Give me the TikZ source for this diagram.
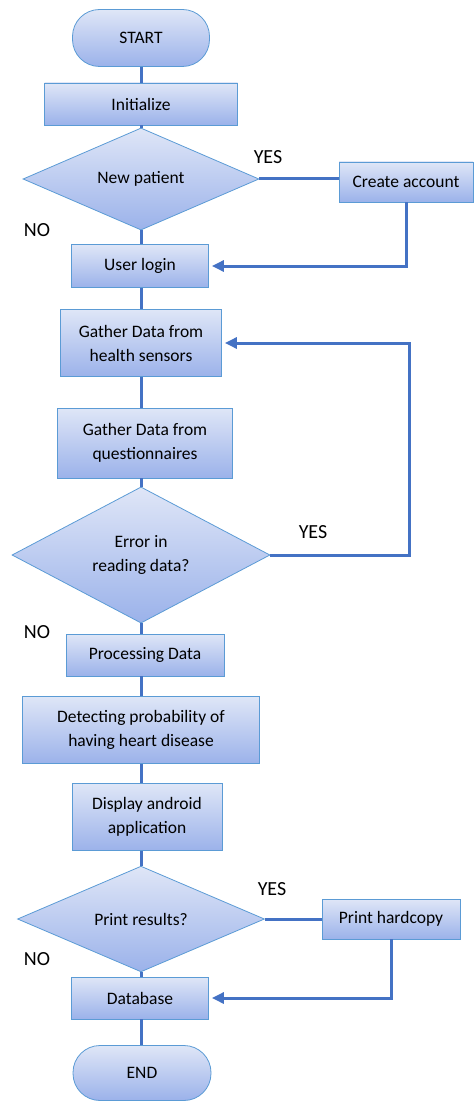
\documentclass[tikz,border=0pt]{standalone}
\usepackage{fontspec}
\setmainfont{Carlito}
\usepackage{xcolor}
\usetikzlibrary{shapes.geometric,arrows.meta}
\definecolor{boxline}{HTML}{5B9BD5}
\definecolor{boxtop}{HTML}{DFE6F7}
\definecolor{boxbottom}{HTML}{9BB2EA}
\definecolor{flowline}{HTML}{4472C4}
\tikzset{
rectnodev1/.style={rectangle, draw=boxline, top color=boxtop, bottom color=boxbottom, thick, inner sep=0pt, align=center, font=\fontsize{17.5}{24}\selectfont},
roundnodev1/.style={rectangle, rounded corners=27pt, draw=boxline, top color=boxtop, bottom color=boxbottom, thick, inner sep=0pt, font=\fontsize{17.5}{24}\selectfont},
diamondnodev1/.style={diamond, draw=boxline, top color=boxtop, bottom color=boxbottom, thick, inner sep=0pt, align=center, font=\fontsize{17.5}{24}\selectfont},
flowlinev1/.style={line width=3pt, draw=flowline},
flowarrowv1/.style={line width=3pt, draw=flowline, -{Triangle[length=12pt,width=11pt]}, shorten >=3pt},
answertext/.style={inner sep=0pt, font=\fontsize{20}{22}\selectfont},
}

\begin{document}
\begin{tikzpicture}[x=1pt,y=-1pt]
    \useasboundingbox (0,0) rectangle (474,1102);
    \node[roundnodev1, minimum width=137pt, minimum height=57pt] at (141,38) (start) {START};
    \node[rectnodev1, minimum width=193pt, minimum height=42pt] at (141,104) (init) {Initialize};
    \node[diamondnodev1, minimum width=236pt, minimum height=82pt] at (141,179) (newpat) {New patient};
    \node[rectnodev1, minimum width=134pt, minimum height=40pt] at (406,182) (account) {Create account};
    \node[rectnodev1, minimum width=137pt, minimum height=43pt] at (140,266) (login) {User login};
    \node[rectnodev1, minimum width=161pt, minimum height=67pt] at (141,343) (sensors) {Gather Data from\\health sensors};
    \node[rectnodev1, minimum width=175pt, minimum height=70pt] at (145,443) (quest) {Gather Data from\\questionnaires};
    \node[diamondnodev1, minimum width=258pt, minimum height=124pt] at (141,555) (error) {Error in\\reading data?};
    \node[rectnodev1, minimum width=158pt, minimum height=42pt] at (145,655) (process) {Processing Data};
    \node[rectnodev1, minimum width=237pt, minimum height=67pt] at (141,730) (detect) {Detecting probability of\\having heart disease};
    \node[rectnodev1, minimum width=150pt, minimum height=67pt] at (147,817) (display) {Display android\\application};
    \node[diamondnodev1, minimum width=247pt, minimum height=84pt] at (141,919) (print) {Print results?};
    \node[rectnodev1, minimum width=138pt, minimum height=40pt] at (391,919) (hardcopy) {Print hardcopy};
    \node[rectnodev1, minimum width=137pt, minimum height=42pt] at (140,998) (database) {Database};
    \node[roundnodev1, minimum width=138pt, minimum height=55pt] at (142,1073) (end) {END};
    % yes / no labels
    \node[answertext] at (268,157) (yesone) {YES};
    \node[answertext] at (37,230) (noone) {NO};
    \node[answertext] at (313,532) (yestwo) {YES};
    \node[answertext] at (37,632) (notwo) {NO};
    \node[answertext] at (272,889) (yesthree) {YES};
    \node[answertext] at (37,959) (nothree) {NO};
    \coordinate (spine) at (141,0);
    \coordinate (loopx) at (409,555);
    % main line, kept on one vertical
    \draw[flowlinev1] (start.south -| spine) -- (init.north -| spine);
    \draw[flowlinev1] (init.south -| spine) -- (newpat.north);
    \draw[flowlinev1] (newpat.south) -- (login.north -| spine);
    \draw[flowlinev1] (login.south -| spine) -- (sensors.north -| spine);
    \draw[flowlinev1] (sensors.south -| spine) -- (quest.north -| spine);
    \draw[flowlinev1] (quest.south -| spine) -- (error.north);
    \draw[flowlinev1] (error.south) -- (process.north -| spine);
    \draw[flowlinev1] (process.south -| spine) -- (detect.north -| spine);
    \draw[flowlinev1] (detect.south -| spine) -- (display.north -| spine);
    \draw[flowlinev1] (display.south -| spine) -- (print.north);
    \draw[flowlinev1] (print.south) -- (database.north -| spine);
    \draw[flowlinev1] (database.south -| spine) -- (end.north -| spine);
    % side branches
    \draw[flowlinev1] (newpat.east) -- (newpat.east -| account.west);
    \draw[flowarrowv1] (account.south) |- (login.east);
    \draw[flowarrowv1] (error.east) -- (loopx) |- (sensors.east);
    \draw[flowlinev1] (print.east) -- (hardcopy.west);
    \draw[flowarrowv1] (hardcopy.south) |- (database.east);
\end{tikzpicture}
\end{document}
